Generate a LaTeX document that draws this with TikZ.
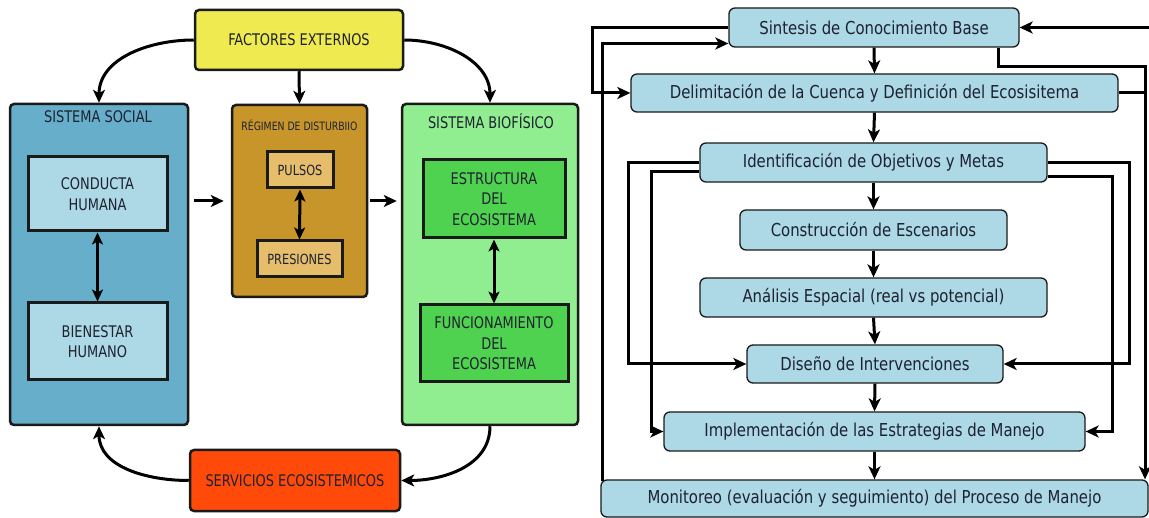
\documentclass[tikz,border=0pt]{standalone}
\usepackage{fontspec}
\setmainfont{DejaVu Sans Condensed}
\newfontfamily\lfont[FakeStretch=0.9]{DejaVu Sans Condensed}
\newfontfamily\rfont[FakeStretch=0.93]{DejaVu Sans Condensed}
\usetikzlibrary{arrows.meta,calc}
\definecolor{cyel}{HTML}{EEEA50}
\definecolor{csoc}{HTML}{67AECB}
\definecolor{clb}{HTML}{ADD8E6}
\definecolor{creg}{HTML}{C8952B}
\definecolor{cpul}{HTML}{E5BD6B}
\definecolor{cbio}{HTML}{90EE90}
\definecolor{cgrn}{HTML}{4FD24F}
\definecolor{cser}{HTML}{FF4A0A}
\definecolor{txt}{HTML}{1E2230}
\definecolor{brd}{HTML}{1A1A1A}
\begin{document}
\begin{tikzpicture}[x=1pt,y=-1pt,
  outerbox/.style={draw=brd, line width=2.5pt, rounded corners=4pt, inner sep=0pt, text=txt, align=center},
  innerbox/.style={draw=brd, line width=3pt, inner sep=0pt, align=center, text=txt, font=\lfont\fontsize{16}{20.5}\selectfont},
  ttl/.style={inner sep=0pt, text=txt, font=\lfont\fontsize{16}{17}\selectfont},
  rbox/.style={draw=brd, line width=1.3pt, rounded corners=6pt, fill=clb, inner sep=0pt, text=txt, font=\rfont\fontsize{17.8}{20}\selectfont},
  ar/.style={line width=3pt, -{Stealth[length=13pt,width=12pt,inset=3.5pt]}},
  dar/.style={line width=3pt, {Stealth[length=12pt,width=11pt,inset=3pt]}-{Stealth[length=12pt,width=11pt,inset=3pt]}},
  rl/.style={line width=3pt}
]
\fill[white] (0,0) rectangle (1149,518);
\useasboundingbox (0,0) rectangle (1149,518);

% ---------------- left diagram ----------------
\node[outerbox, fill=cyel, minimum width=208pt, minimum height=60pt, font=\lfont\fontsize{16}{17}\selectfont] (fe) at (299,40) {FACTORES EXTERNOS};

\node[outerbox, fill=csoc, minimum width=178pt, minimum height=321pt] (ss) at (99,264.5) {};
\node[ttl] (sst) at (98,117) {SISTEMA SOCIAL};
\node[innerbox, fill=clb, minimum width=139pt, minimum height=74pt] (ch) at (97.5,194) {CONDUCTA\\HUMANA};
\node[innerbox, fill=clb, minimum width=139pt, minimum height=77pt] (bh) at (97.5,341.5) {BIENESTAR\\HUMANO};

\node[outerbox, fill=creg, minimum width=135pt, minimum height=192pt] (rd) at (299.5,201) {};
\node[ttl, font=\lfont\fontsize{11.5}{13}\selectfont] (rdt) at (299.5,125) {RÉGIMEN DE DISTURBIIO};
\node[innerbox, fill=cpul, minimum width=66pt, minimum height=36pt, font=\lfont\fontsize{14}{16}\selectfont] (pu) at (300,170) {PULSOS};
\node[innerbox, fill=cpul, minimum width=85pt, minimum height=36pt, font=\lfont\fontsize{14}{16}\selectfont] (pr) at (299.5,259) {PRESIONES};

\node[outerbox, fill=cbio, minimum width=176pt, minimum height=321pt] (sb) at (490,264.5) {};
\node[ttl] (sbt) at (491,121) {SISTEMA BIOFÍSICO};
\node[innerbox, fill=cgrn, minimum width=142pt, minimum height=78pt] (es) at (494,199) {ESTRUCTURA\\DEL\\ECOSISTEMA};
\node[innerbox, fill=cgrn, minimum width=148pt, minimum height=77pt] (fu) at (494,343.5) {FUNCIONAMIENTO\\DEL\\ECOSISTEMA};

\node[outerbox, fill=cser, minimum width=210pt, minimum height=61pt, font=\lfont\fontsize{16}{17}\selectfont] (se) at (295,480.5) {SERVICIOS ECOSISTEMICOS};

\draw[ar] (fe.south) -- (rd.north);
\draw[ar] (fe.west) to[out=180,in=90] (ss.north);
\draw[ar] (fe.east) to[out=0,in=90] (sb.north);
\draw[ar] (sb.south) to[out=-90,in=0] (se.east);
\draw[ar] (se.west) to[out=180,in=-90] (ss.south);
\draw[ar, shorten <=5pt, shorten >=7pt] (rd.west -| ss.east) -- (rd.west);
\draw[ar, shorten <=2pt, shorten >=4pt] (rd.east) -- (rd.east -| sb.west);
\draw[dar] (ch.south) -- (bh.north);
\draw[dar] (pu.south) -- (pr.north);
\draw[dar] (es.south) -- (fu.north);

% ---------------- right diagram ----------------
\node[rbox, minimum width=290pt, minimum height=39pt] (sin) at (874,27.5) {Sintesis de Conocimiento Base};
\node[rbox, minimum width=487pt, minimum height=38pt] (del) at (874.5,93) {Delimitación de la Cuenca y Definición del Ecosisitema};
\node[rbox, minimum width=347pt, minimum height=39pt] (ide) at (873.5,162.5) {Identificación de Objetivos y Metas};
\node[rbox, minimum width=267pt, minimum height=40pt] (con) at (873.5,230) {Construcción de Escenarios};
\node[rbox, minimum width=347pt, minimum height=39pt] (ana) at (873.5,297.5) {Análisis Espacial (real vs potencial)};
\node[rbox, minimum width=256pt, minimum height=38pt] (dis) at (875,364) {Diseño de Intervenciones};
\node[rbox, minimum width=421pt, minimum height=39pt] (imp) at (874.5,431.5) {Implementación de las Estrategias de Manejo};
\node[rbox, minimum width=547pt, minimum height=37pt] (mon) at (874.5,498.5) {Monitoreo (evaluación y seguimiento) del Proceso de Manejo};

\coordinate (xA) at (592,0);
\coordinate (xC) at (628,0);
\coordinate (xD) at (651,0);
\coordinate (xE) at (1129,0);
\coordinate (xF) at (1112,0);
\coordinate (xG) at (1145,0);
\coordinate (yH) at (0,67);
\coordinate (tr) at (1149,27.5);

\draw[ar] (sin.south) -- (del.north);
\draw[ar] (del.south) -- (ide.north);
\draw[ar] (ide.south) -- (con.north);
\draw[ar] (con.south) -- (ana.north);
\draw[ar] (ana.south) -- (dis.north);
\draw[ar] (dis.south) -- (imp.north);
\draw[ar] (imp.south) -- (mon.north);

\draw[ar] (sin.west) -- (sin.west -| xA) |- (del.west);
\draw[ar] ([xshift=2pt,yshift=-2pt]mon.north west) |- ([yshift=-16pt]sin.west);
\draw[ar] ([xshift=-21pt]sin.south east) |- (yH -| xG) -- (mon.north -| xG);
\draw[rl] (del.east) -- (del.east -| xG);
\draw[ar] (tr) -- (sin.east);

\draw[ar] (ide.west) -- (ide.west -| xC) |- (dis.west);
\draw[ar] ([yshift=-9.5pt]ide.west) -- ([yshift=-9.5pt]ide.west -| xD) |- (imp.west);
\draw[ar] (ide.east) -- (ide.east -| xE) |- (dis.east);
\draw[ar] ([yshift=-14pt]ide.east) -- ([yshift=-14pt]ide.east -| xF) |- (imp.east);
\end{tikzpicture}
\end{document}
